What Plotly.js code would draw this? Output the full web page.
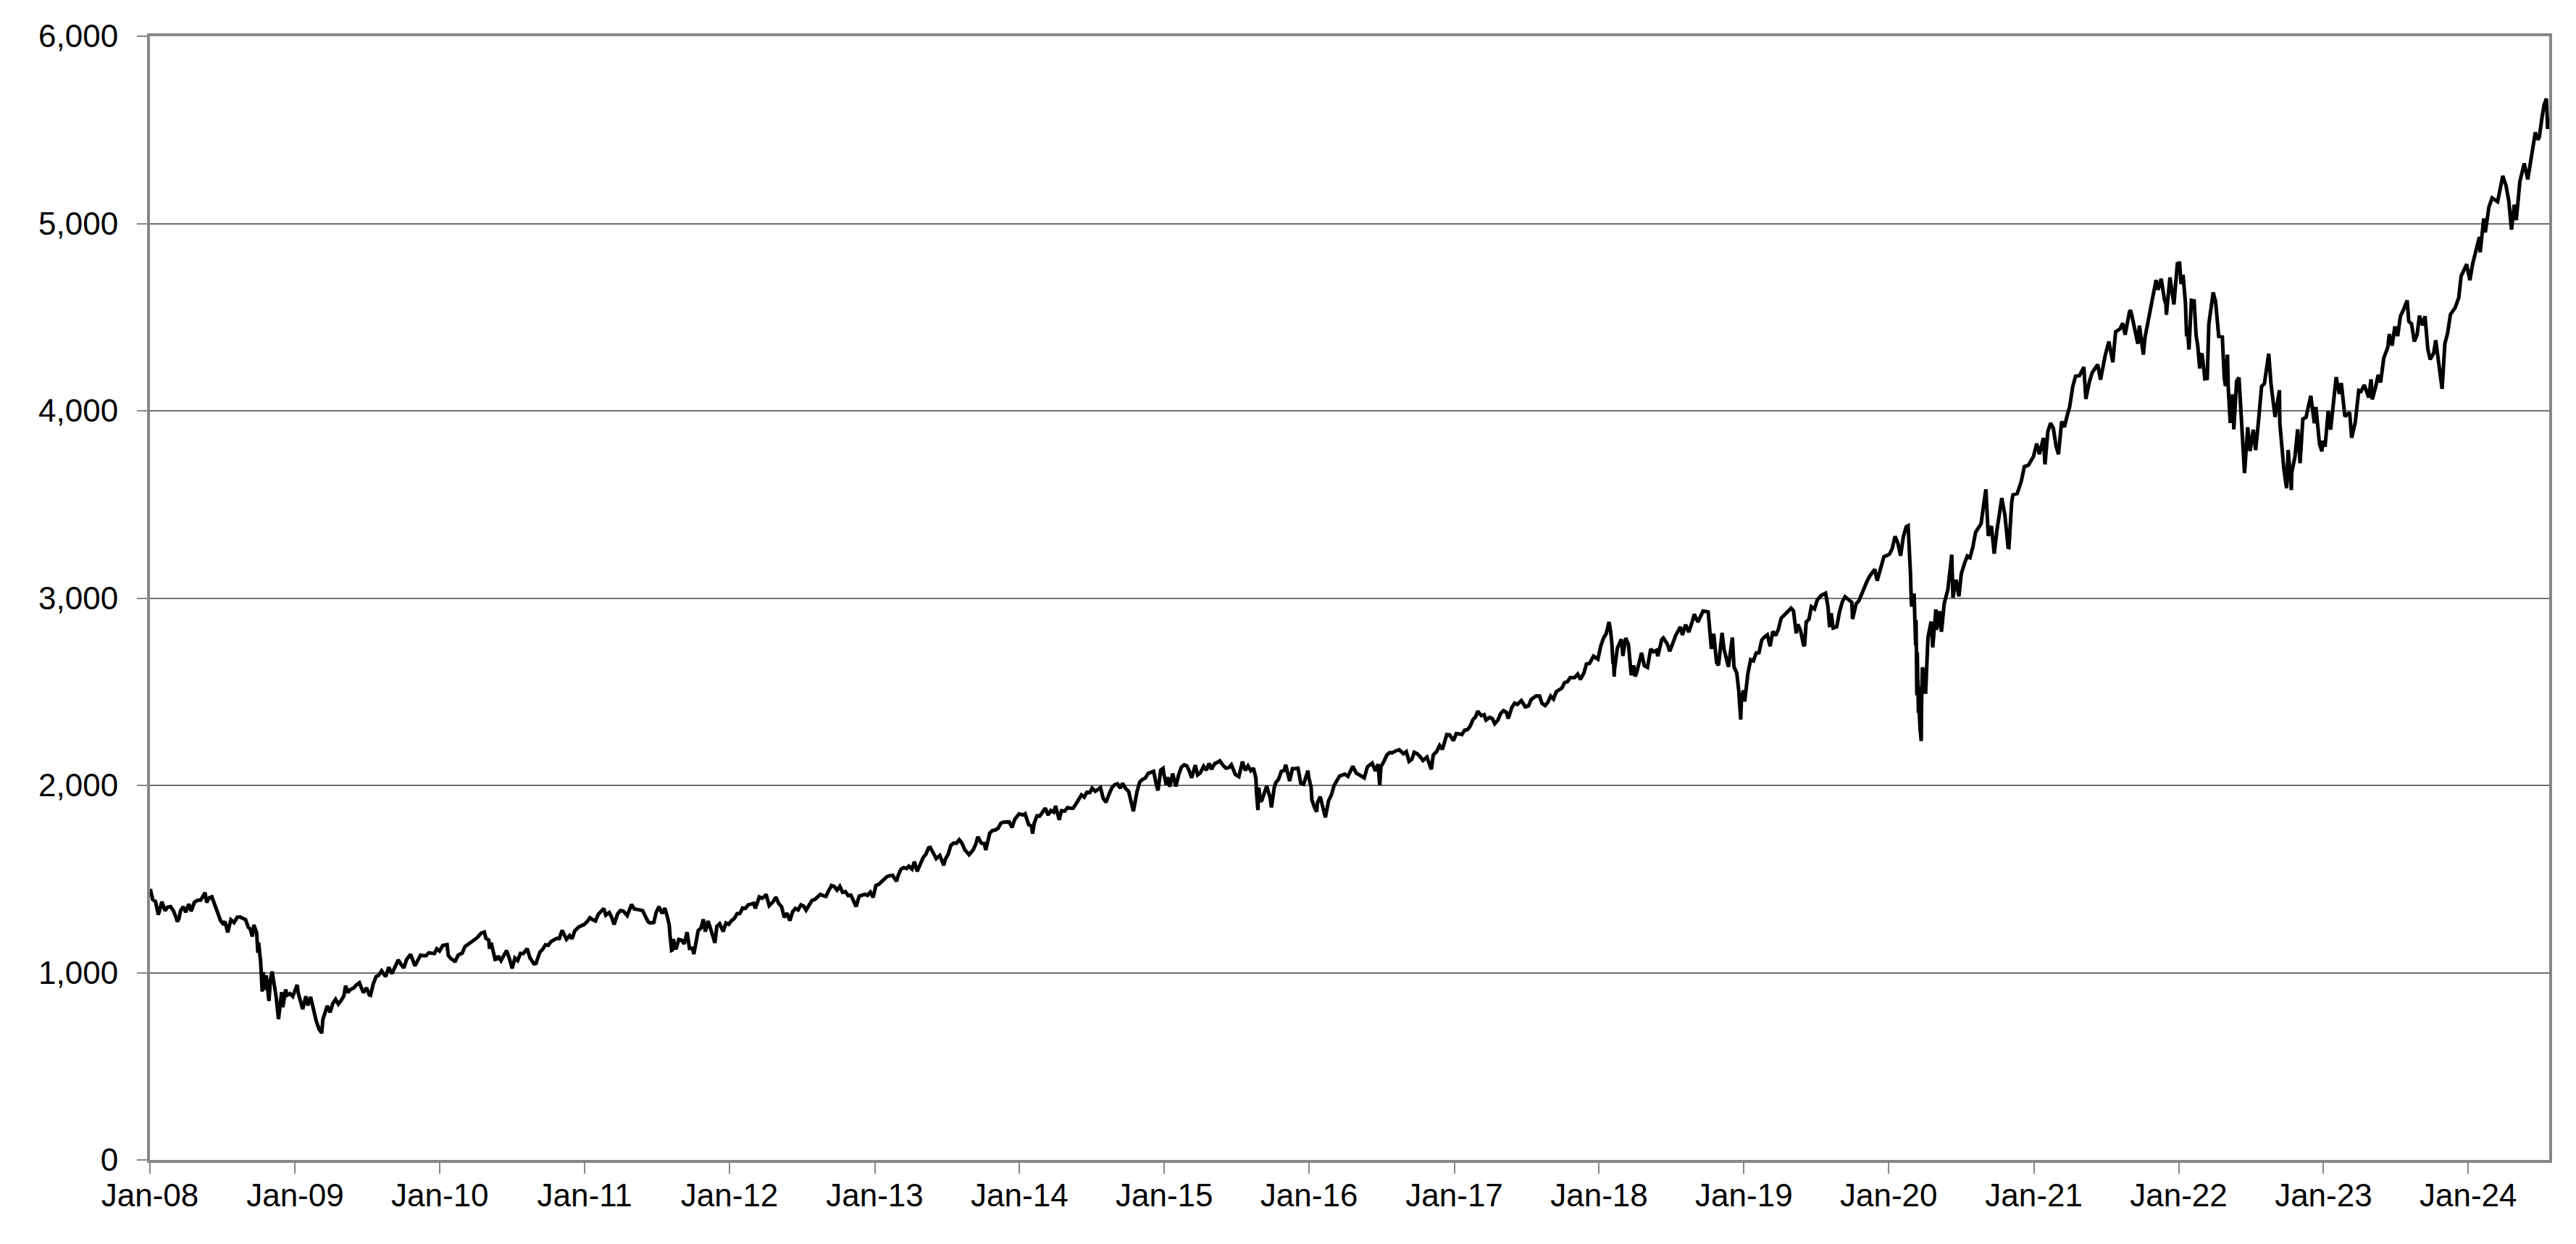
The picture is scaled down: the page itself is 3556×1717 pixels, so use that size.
<!DOCTYPE html>
<html>
<head>
<meta charset="utf-8">
<script src="https://cdn.plot.ly/plotly-3.0.1.min.js"></script>
<style>html,body{margin:0;padding:0;background:#fff;}#chart{width:3556px;height:1717px;}</style>
</head>
<body>
<div id="chart"></div>
<script>
// S&P 500 closes, as [month-day, value] per year
const sp2008 = [["01-02",1447],["01-08",1390],["01-15",1380],["01-22",1310],["01-25",1330],["01-31",1379],["02-08",1331],["02-14",1349],["02-22",1353],["02-29",1331],["03-07",1294],["03-10",1273],["03-14",1288],["03-18",1330],["03-25",1352],["03-31",1323],["04-08",1366],["04-14",1328],["04-22",1376],["04-30",1386],["05-08",1388],["05-19",1427],["05-23",1375],["05-30",1400],["06-05",1405],["06-13",1360],["06-20",1317],["06-27",1278],["07-03",1262],["07-08",1273],["07-15",1215],["07-23",1282],["07-31",1267],["08-08",1296],["08-15",1298],["08-22",1292],["08-29",1283],["09-05",1242],["09-10",1232],["09-15",1193],["09-19",1255],["09-26",1213],["09-29",1106],["10-01",1161],["10-06",1057],["10-10",899],["10-13",1003],["10-15",908],["10-20",985],["10-27",849],["10-31",969],["11-04",1006],["11-10",920],["11-14",873],["11-20",752],["11-24",852],["11-28",896],["12-01",816],["12-08",910],["12-12",880],["12-19",888],["12-26",873],["12-31",903]];
const sp2009 = [["01-06",935],["01-09",890],["01-15",844],["01-20",805],["01-28",874],["02-02",825],["02-09",870],["02-17",790],["02-23",743],["03-02",700],["03-09",677],["03-12",751],["03-17",778],["03-23",823],["03-30",788],["04-06",835],["04-13",858],["04-20",832],["04-28",855],["05-04",877],["05-08",930],["05-14",893],["05-19",908],["05-29",919],["06-03",932],["06-12",946],["06-22",893],["06-30",919],["07-07",881],["07-10",879],["07-17",941],["07-24",979],["07-31",987],["08-07",1010],["08-17",979],["08-25",1029],["09-02",995],["09-11",1042],["09-18",1068],["09-25",1044],["10-02",1025],["10-09",1071],["10-19",1098],["10-30",1036],["11-06",1069],["11-13",1093],["11-20",1091],["11-27",1091],["12-04",1106],["12-11",1106],["12-18",1102],["12-24",1127],["12-31",1115]];
const sp2010 = [["01-08",1145],["01-19",1150],["01-22",1092],["01-29",1074],["02-05",1066],["02-08",1057],["02-16",1094],["02-26",1104],["03-05",1139],["03-12",1150],["03-19",1160],["03-26",1167],["04-05",1187],["04-15",1211],["04-23",1217],["04-27",1183],["05-04",1174],["05-06",1128],["05-10",1160],["05-20",1071],["05-25",1074],["05-28",1089],["06-04",1065],["06-11",1092],["06-18",1118],["06-25",1076],["07-02",1023],["07-09",1078],["07-16",1065],["07-23",1103],["07-30",1102],["08-09",1128],["08-16",1079],["08-26",1047],["08-31",1049],["09-10",1110],["09-17",1125],["09-24",1149],["10-01",1146],["10-08",1166],["10-15",1176],["10-22",1183],["10-29",1183],["11-05",1226],["11-16",1178],["11-24",1198],["11-30",1181],["12-07",1224],["12-17",1244],["12-31",1258]];
const sp2011 = [["01-07",1272],["01-14",1293],["01-21",1283],["01-28",1276],["02-04",1311],["02-11",1329],["02-18",1343],["02-23",1307],["03-04",1321],["03-10",1295],["03-16",1257],["03-25",1314],["04-01",1332],["04-08",1329],["04-18",1305],["04-29",1364],["05-06",1340],["05-13",1338],["05-20",1333],["05-27",1331],["06-03",1300],["06-10",1271],["06-15",1265],["06-24",1268],["06-30",1321],["07-07",1353],["07-15",1316],["07-22",1345],["07-29",1292],["08-02",1254],["08-04",1200],["08-08",1119],["08-10",1121],["08-12",1179],["08-19",1124],["08-26",1177],["09-02",1174],["09-09",1154],["09-16",1216],["09-22",1130],["09-30",1131],["10-03",1099],["10-07",1155],["10-14",1225],["10-21",1238],["10-27",1285],["11-01",1219],["11-08",1276],["11-17",1216],["11-25",1159],["11-30",1247],["12-07",1261],["12-16",1220],["12-23",1265],["12-30",1258]];
const sp2012 = [["01-06",1278],["01-13",1289],["01-20",1315],["01-27",1316],["02-03",1345],["02-10",1343],["02-17",1362],["02-24",1366],["03-02",1370],["03-06",1343],["03-16",1404],["03-23",1397],["03-30",1408],["04-02",1419],["04-10",1358],["04-20",1379],["04-27",1403],["05-04",1369],["05-11",1353],["05-18",1295],["05-25",1318],["06-01",1278],["06-08",1325],["06-15",1343],["06-22",1335],["06-29",1362],["07-06",1355],["07-12",1334],["07-20",1362],["07-27",1386],["08-03",1391],["08-10",1406],["08-17",1418],["08-24",1411],["08-31",1407],["09-07",1438],["09-14",1466],["09-21",1460],["09-28",1441],["10-05",1461],["10-12",1429],["10-19",1433],["10-26",1412],["11-02",1414],["11-09",1380],["11-15",1353],["11-23",1409],["11-30",1416],["12-07",1418],["12-14",1413],["12-21",1430],["12-28",1402],["12-31",1426]];
const sp2013 = [["01-04",1466],["01-11",1472],["01-18",1486],["01-25",1503],["02-01",1513],["02-08",1518],["02-15",1520],["02-25",1488],["03-01",1518],["03-08",1552],["03-15",1561],["03-22",1556],["03-28",1569],["04-05",1553],["04-11",1593],["04-18",1541],["04-26",1582],["05-03",1614],["05-10",1633],["05-17",1667],["05-21",1669],["05-31",1631],["06-05",1609],["06-14",1626],["06-24",1573],["06-28",1606],["07-05",1632],["07-12",1680],["07-19",1692],["07-26",1691],["08-02",1710],["08-09",1691],["08-16",1656],["08-27",1630],["09-06",1655],["09-13",1688],["09-18",1726],["09-27",1691],["10-04",1690],["10-08",1655],["10-18",1745],["10-25",1759],["11-01",1762],["11-08",1771],["11-15",1798],["11-22",1804],["11-29",1806],["12-06",1805],["12-13",1775],["12-20",1818],["12-31",1848]];
const sp2014 = [["01-10",1842],["01-15",1848],["01-24",1790],["01-31",1783],["02-03",1742],["02-07",1797],["02-14",1838],["02-21",1836],["02-28",1859],["03-07",1878],["03-14",1841],["03-21",1866],["03-28",1857],["04-02",1890],["04-11",1816],["04-17",1865],["04-25",1863],["05-02",1881],["05-09",1878],["05-16",1878],["05-23",1900],["05-30",1924],["06-06",1949],["06-13",1937],["06-20",1963],["06-27",1961],["07-03",1985],["07-11",1968],["07-18",1978],["07-24",1988],["07-31",1931],["08-07",1910],["08-15",1955],["08-22",1988],["08-29",2003],["09-05",2008],["09-12",1985],["09-18",2011],["09-26",1982],["10-03",1968],["10-10",1906],["10-15",1862],["10-24",1965],["10-31",2018],["11-07",2032],["11-14",2039],["11-21",2064],["11-28",2068],["12-05",2075],["12-12",2003],["12-16",1973],["12-23",2082],["12-29",2091],["12-31",2059]];
const sp2015 = [["01-06",2003],["01-09",2044],["01-15",1993],["01-22",2063],["01-30",1995],["02-06",2055],["02-13",2097],["02-20",2110],["02-27",2104],["03-06",2071],["03-11",2040],["03-20",2108],["03-26",2056],["04-02",2067],["04-10",2102],["04-17",2081],["04-24",2117],["04-30",2086],["05-08",2116],["05-15",2123],["05-21",2131],["05-29",2107],["06-05",2092],["06-12",2094],["06-19",2110],["06-29",2058],["07-08",2047],["07-17",2127],["07-24",2080],["07-31",2104],["08-07",2078],["08-14",2092],["08-20",2036],["08-21",1971],["08-25",1868],["08-27",1988],["09-01",1914],["09-04",1921],["09-11",1961],["09-16",1996],["09-25",1932],["09-28",1882],["10-05",1987],["10-09",2015],["10-16",2033],["10-23",2075],["10-30",2079],["11-03",2110],["11-13",2023],["11-20",2089],["11-27",2090],["12-04",2092],["12-11",2012],["12-18",2006],["12-29",2078],["12-31",2044]];
const sp2016 = [["01-06",1990],["01-08",1922],["01-15",1880],["01-20",1859],["01-22",1907],["01-29",1940],["02-05",1880],["02-11",1829],["02-19",1918],["02-26",1948],["03-04",2000],["03-11",2022],["03-18",2050],["03-31",2060],["04-08",2048],["04-20",2102],["04-29",2065],["05-06",2057],["05-19",2040],["05-27",2099],["06-08",2119],["06-16",2077],["06-23",2113],["06-27",2001],["06-30",2099],["07-08",2130],["07-15",2162],["07-22",2175],["07-29",2174],["08-05",2183],["08-15",2190],["08-26",2169],["09-02",2180],["09-09",2128],["09-16",2139],["09-22",2177],["09-30",2168],["10-07",2153],["10-14",2133],["10-24",2151],["11-04",2085],["11-09",2163],["11-18",2182],["11-25",2213],["12-02",2192],["12-13",2271],["12-20",2270],["12-30",2239]];
const sp2017 = [["01-06",2277],["01-13",2275],["01-20",2271],["01-27",2295],["02-03",2297],["02-10",2316],["02-17",2351],["02-24",2367],["03-01",2396],["03-10",2373],["03-17",2378],["03-22",2349],["03-31",2363],["04-07",2356],["04-13",2329],["04-21",2349],["04-28",2384],["05-05",2399],["05-12",2391],["05-17",2357],["05-26",2416],["06-02",2439],["06-09",2432],["06-19",2453],["06-29",2419],["07-07",2425],["07-14",2459],["07-26",2478],["08-04",2477],["08-10",2438],["08-18",2426],["08-25",2444],["09-01",2477],["09-08",2461],["09-15",2500],["09-29",2519],["10-06",2549],["10-13",2553],["10-20",2575],["10-31",2575],["11-08",2594],["11-15",2565],["11-24",2602],["11-30",2648],["12-08",2652],["12-18",2690],["12-29",2674]];
const sp2018 = [["01-05",2743],["01-12",2786],["01-19",2810],["01-26",2873],["01-30",2822],["02-02",2762],["02-05",2649],["02-06",2695],["02-08",2581],["02-09",2620],["02-16",2732],["02-26",2780],["03-02",2691],["03-09",2787],["03-16",2752],["03-23",2588],["03-29",2641],["04-02",2582],["04-06",2604],["04-13",2656],["04-18",2708],["04-25",2639],["05-03",2630],["05-11",2728],["05-18",2713],["05-25",2721],["05-29",2690],["06-08",2779],["06-12",2787],["06-22",2755],["06-28",2716],["07-06",2760],["07-13",2801],["07-25",2846],["07-30",2803],["08-07",2858],["08-15",2818],["08-24",2875],["08-29",2914],["09-07",2872],["09-14",2905],["09-20",2931],["10-03",2926],["10-11",2729],["10-17",2810],["10-24",2656],["10-29",2641],["11-07",2814],["11-12",2726],["11-20",2642],["11-23",2633],["12-03",2790],["12-07",2633],["12-14",2600],["12-19",2507],["12-24",2351],["12-26",2468],["12-31",2507]];
const sp2019 = [["01-03",2448],["01-11",2596],["01-18",2671],["01-25",2665],["02-01",2707],["02-08",2708],["02-15",2776],["02-22",2793],["03-01",2804],["03-08",2743],["03-15",2822],["03-22",2800],["03-29",2834],["04-05",2893],["04-12",2907],["04-23",2934],["04-30",2946],["05-06",2932],["05-13",2812],["05-17",2860],["05-24",2826],["05-31",2752],["06-03",2744],["06-07",2873],["06-14",2887],["06-20",2954],["06-28",2942],["07-05",2990],["07-15",3014],["07-26",3026],["08-01",2953],["08-05",2845],["08-09",2919],["08-14",2840],["08-23",2847],["08-30",2926],["09-06",2979],["09-13",3007],["09-20",2992],["09-30",2977],["10-02",2888],["10-11",2970],["10-18",2986],["10-28",3039],["11-08",3093],["11-15",3120],["11-27",3154],["12-03",3093],["12-13",3169],["12-20",3221],["12-31",3231]];
const sp2020 = [["01-03",3235],["01-10",3265],["01-17",3330],["01-24",3295],["01-31",3226],["02-07",3328],["02-14",3380],["02-19",3386],["02-24",3226],["02-25",3128],["02-27",2979],["02-28",2954],["03-03",3003],["03-05",3024],["03-09",2747],["03-10",2882],["03-12",2481],["03-13",2711],["03-16",2386],["03-17",2529],["03-18",2398],["03-20",2305],["03-23",2237],["03-24",2447],["03-26",2630],["03-31",2585],["04-03",2489],["04-09",2790],["04-17",2875],["04-21",2737],["04-29",2940],["05-01",2831],["05-08",2930],["05-13",2820],["05-20",2972],["05-29",3044],["06-08",3232],["06-11",3002],["06-19",3098],["06-26",3009],["07-02",3130],["07-10",3185],["07-17",3225],["07-24",3216],["07-31",3271],["08-07",3351],["08-14",3373],["08-21",3397],["08-28",3508],["09-02",3581],["09-08",3332],["09-16",3385],["09-23",3237],["09-30",3363],["10-12",3534],["10-20",3443],["10-28",3271],["10-30",3270],["11-06",3510],["11-09",3551],["11-20",3558],["11-30",3622],["12-08",3702],["12-18",3709],["12-31",3756]];
const sp2021 = [["01-08",3825],["01-15",3768],["01-25",3855],["01-29",3714],["02-05",3887],["02-12",3934],["02-19",3907],["02-26",3811],["03-04",3768],["03-12",3943],["03-19",3913],["03-26",3975],["04-01",4020],["04-09",4129],["04-16",4185],["04-26",4188],["05-07",4233],["05-12",4063],["05-21",4156],["05-28",4204],["06-04",4230],["06-11",4247],["06-18",4166],["06-30",4298],["07-09",4370],["07-19",4259],["07-26",4422],["08-06",4437],["08-13",4468],["08-19",4406],["08-30",4529],["09-02",4537],["09-10",4459],["09-20",4358],["09-24",4455],["10-04",4300],["10-08",4391],["10-15",4471],["10-22",4545],["10-29",4605],["11-05",4698],["11-10",4646],["11-18",4705],["11-26",4595],["11-30",4567],["12-01",4513],["12-10",4712],["12-20",4568],["12-29",4793],["12-31",4766]];
const sp2022 = [["01-03",4797],["01-07",4677],["01-12",4726],["01-18",4577],["01-21",4398],["01-24",4410],["01-27",4327],["02-02",4590],["02-09",4587],["02-14",4401],["02-18",4349],["02-23",4226],["02-24",4289],["03-01",4306],["03-08",4171],["03-14",4173],["03-18",4463],["03-29",4632],["04-04",4583],["04-12",4397],["04-21",4394],["04-26",4175],["04-29",4132],["05-04",4300],["05-06",4123],["05-11",3935],["05-17",4088],["05-20",3901],["05-27",4158],["06-02",4177],["06-10",3901],["06-13",3750],["06-16",3667],["06-24",3912],["06-30",3785],["07-08",3899],["07-14",3790],["07-22",3962],["07-29",4130],["08-05",4145],["08-16",4305],["08-22",4138],["08-26",4058],["09-01",3967],["09-12",4110],["09-13",3933],["09-23",3693],["09-30",3586],["10-04",3791],["10-12",3577],["10-13",3670],["10-21",3753],["10-28",3901],["11-03",3720],["11-10",3956],["11-18",3965],["11-30",4080],["12-09",3934],["12-13",4020],["12-22",3822],["12-28",3783],["12-30",3840]];
const sp2023 = [["01-05",3808],["01-13",3999],["01-19",3899],["01-27",4071],["02-02",4180],["02-10",4090],["02-15",4148],["02-24",3970],["03-02",3981],["03-08",3992],["03-13",3856],["03-22",3937],["03-31",4109],["04-06",4105],["04-14",4138],["04-25",4071],["05-01",4168],["05-04",4061],["05-12",4124],["05-19",4192],["05-25",4151],["06-02",4282],["06-12",4338],["06-16",4410],["06-23",4348],["06-30",4450],["07-07",4399],["07-14",4505],["07-21",4536],["07-31",4589],["08-04",4478],["08-11",4464],["08-18",4370],["08-25",4406],["08-31",4508],["09-08",4457],["09-14",4505],["09-21",4330],["09-27",4274],["10-06",4309],["10-11",4377],["10-20",4224],["10-27",4117],["11-03",4358],["11-10",4415],["11-17",4514],["11-29",4551],["12-08",4604],["12-14",4720],["12-22",4755],["12-28",4783],["12-29",4770]];
const sp2024 = [["01-05",4697],["01-12",4784],["01-19",4840],["01-29",4928],["01-31",4846],["02-09",5027],["02-13",4953],["02-22",5087],["03-01",5137],["03-08",5124],["03-15",5117],["03-28",5254],["04-05",5204],["04-12",5123],["04-19",4967],["04-26",5100],["05-01",5018],["05-10",5223],["05-21",5321],["05-30",5236],["06-07",5347],["06-18",5487],["06-24",5448],["06-28",5460],["07-05",5567],["07-10",5633],["07-16",5667],["07-17",5589],["07-19",5505],["07-22",5564],["07-23",5555]];

const years = [2008,2009,2010,2011,2012,2013,2014,2015,2016,2017,2018,2019,2020,2021,2022,2023,2024];
const yearData = [sp2008,sp2009,sp2010,sp2011,sp2012,sp2013,sp2014,sp2015,sp2016,sp2017,sp2018,sp2019,sp2020,sp2021,sp2022,sp2023,sp2024];
const yTickValues = [0,1000,2000,3000,4000,5000,6000];

const xs = [], ys = [];
yearData.forEach((arr, i) => {
  arr.forEach(p => { xs.push(years[i] + "-" + p[0]); ys.push(p[1]); });
});

const font = {family: "Liberation Sans, Arial, sans-serif", size: 44, color: "#000"};

Plotly.newPlot("chart", [{
  x: xs, y: ys, type: "scatter", mode: "lines",
  line: {color: "#000000", width: 5},
  hoverinfo: "skip"
}], {
  width: 3556, height: 1717,
  margin: {l: 207, r: 37, t: 50, b: 116, pad: 0},
  paper_bgcolor: "#ffffff", plot_bgcolor: "#ffffff",
  showlegend: false,
  font: font,
  xaxis: {
    type: "date",
    range: ["2008-01-01", "2024-07-23"],
    tick0: "2008-01-01", dtick: "M12", tickformat: "%b-%y",
    ticks: "outside", ticklen: 15, tickwidth: 2, tickcolor: "#868686",
    showgrid: false, zeroline: false,
    showline: true, mirror: true, linecolor: "#868686", linewidth: 4,
    tickfont: font, ticklabelstandoff: -8
  },
  yaxis: {
    range: [0, 6000],
    tickvals: yTickValues, tickformat: ",d",
    ticks: "outside", ticklen: 14, tickwidth: 2, tickcolor: "#868686",
    showgrid: true, gridcolor: "#6e6e6e", gridwidth: 2,
    zeroline: false,
    showline: true, mirror: true, linecolor: "#868686", linewidth: 4,
    tickfont: font, ticklabelstandoff: 17
  }
}, {staticPlot: true, displayModeBar: false});
</script>
</body>
</html>
